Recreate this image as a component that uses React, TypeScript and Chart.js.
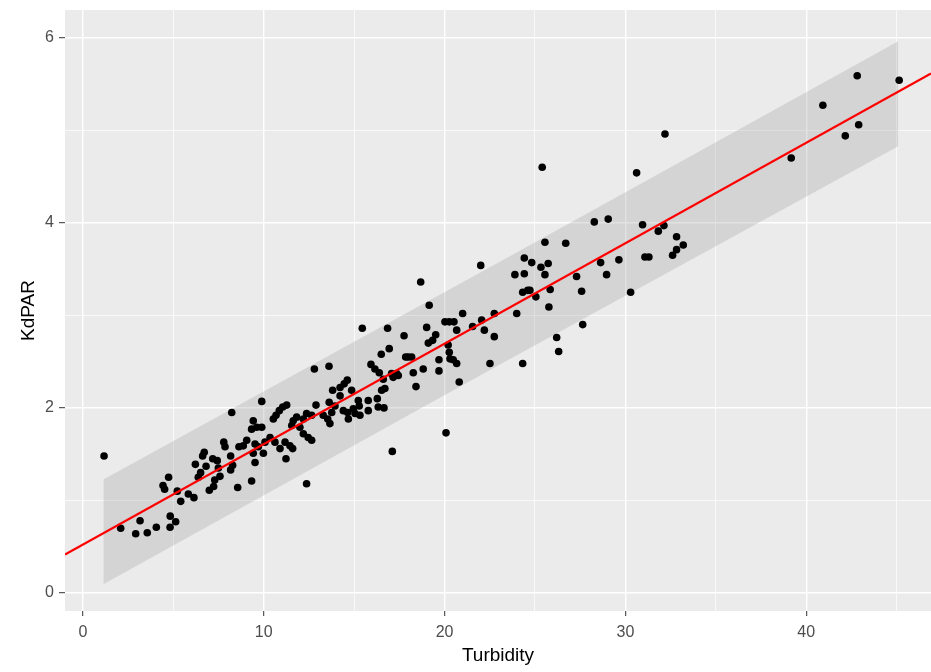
import React, { useEffect, useRef } from "react";
import { Chart, registerables } from "chart.js";

Chart.register(...registerables);

// Observed data (Turbidity vs KdPAR)
const turbidity = [
  1.17, 2.09, 2.92, 3.16, 3.56, 4.06, 4.82, 4.83, 5.13, 4.43, 4.52, 4.74, 5.22, 5.41, 5.83, 6.14, 6.22, 6.38, 6.51, 6.62,
  6.71, 6.81, 6.99, 7.18, 7.23, 7.29, 7.43, 7.49, 7.58, 7.79, 7.86, 8.17, 8.17, 8.23, 8.28, 8.56, 8.63,
  15.45, 16.85, 17.76, 16.94, 16.5, 17.85, 12.8, 13.61, 15.93, 16.15, 16.39, 16.61, 17.07, 17.44, 16.7, 16.52, 14.62, 14.45,
  14.22, 13.81, 14.86, 14.22, 15.23, 15.78, 16.28, 16.33, 16.65, 13.62, 13.94, 13.76, 14.4, 14.64, 14.95, 15.28, 15.05, 15.32,
  15.78, 12.89, 12.65, 12.37, 12.19, 13.54, 13.66, 13.29, 11.82, 11.63, 11.55, 12.0, 12.19, 12.46, 12.65, 11.27, 11.05, 10.86,
  10.68, 10.53, 9.89, 9.42, 9.61, 9.33, 9.89, 10.35, 10.07, 10.62, 10.9, 11.18, 11.45, 11.6, 11.23, 9.06, 8.87, 9.52, 9.7,
  9.42, 9.98, 9.52, 9.33, 12.37, 17.11, 14.68,
  18.68, 22.0, 19.15, 20.02, 20.26, 20.52, 20.67, 21.0, 21.55, 22.05, 22.2, 22.75, 22.75, 23.99, 22.51, 24.32, 19.01, 19.51,
  19.1, 19.34, 17.99, 18.18, 18.82, 18.27, 19.69, 19.69, 18.42, 20.2, 20.26, 20.3, 20.48, 20.67, 20.81, 20.08, 23.89, 24.41,
  24.41, 24.82, 25.33, 25.55, 25.73, 25.55, 24.32, 24.6, 24.72, 25.05, 25.77, 17.16, 17.35,
  30.95, 31.82, 29.05, 28.28, 26.7, 27.3, 28.63, 29.64, 31.08, 31.3, 28.96, 30.29, 27.58, 25.84, 27.64, 26.2, 26.31, 32.19,
  25.4, 30.62, 32.13, 32.83, 33.2, 32.83, 32.61,
  42.82, 45.14, 40.92, 42.16, 42.9, 39.17,
];
const kdpar = [
  1.48, 0.7, 0.64, 0.78, 0.65, 0.71, 0.71, 0.83, 0.77, 1.16, 1.12, 1.25, 1.1, 0.99, 1.07, 1.03, 1.39, 1.25, 1.3, 1.48,
  1.52, 1.37, 1.11, 1.45, 1.15, 1.22, 1.43, 1.35, 1.26, 1.63, 1.58, 1.48, 1.33, 1.95, 1.38, 1.14, 1.58,
  2.86, 2.86, 2.78, 2.64, 2.58, 2.55, 2.42, 2.45, 2.47, 2.42, 2.38, 2.31, 2.37, 2.35, 2.21, 2.19, 2.3, 2.26,
  2.22, 2.19, 2.19, 2.13, 2.08, 2.08, 2.1, 2.01, 2.0, 2.06, 2.02, 1.95, 1.97, 1.95, 1.99, 2.02, 1.94, 1.92,
  1.97, 2.03, 1.92, 1.94, 1.88, 1.88, 1.83, 1.92, 1.9, 1.86, 1.81, 1.79, 1.72, 1.68, 1.65, 2.03, 2.01, 1.97,
  1.92, 1.88, 2.07, 1.86, 1.79, 1.77, 1.79, 1.68, 1.63, 1.63, 1.56, 1.63, 1.59, 1.56, 1.45, 1.65, 1.59, 1.61, 1.58,
  1.51, 1.51, 1.41, 1.21, 1.18, 1.53, 1.88,
  3.36, 3.54, 3.11, 2.93, 2.93, 2.93, 2.84, 3.02, 2.88, 2.95, 2.84, 3.02, 2.77, 3.02, 2.48, 2.48, 2.87, 2.79,
  2.7, 2.73, 2.55, 2.55, 2.42, 2.38, 2.52, 2.4, 2.23, 2.68, 2.6, 2.53, 2.52, 2.48, 2.28, 1.73, 3.44, 3.62,
  3.45, 3.57, 3.52, 3.79, 3.56, 3.44, 3.25, 3.27, 3.27, 3.2, 3.09, 2.33, 2.37,
  3.98, 3.91, 4.04, 4.01, 3.78, 3.42, 3.57, 3.6, 3.63, 3.63, 3.44, 3.25, 3.26, 3.28, 2.9, 2.76, 2.61, 4.96,
  4.6, 4.54, 3.97, 3.85, 3.76, 3.71, 3.65,
  5.59, 5.54, 5.27, 4.94, 5.06, 4.7,
];

// Fitted line (full range) and prediction band
const fitX = [-0.99, 46.9];
const fitY = [0.415, 5.613];
const bandX = [1.13, 23.11, 45.09];
const bandUpper = [1.225, 3.585, 5.962];
const bandLower = [0.094, 2.475, 4.827];

// Axes
const xMajor = [0, 10, 20, 30, 40];
const xMinor = [5, 15, 25, 35, 45];
const yMajor = [0, 2, 4, 6];
const yMinor = [1, 3, 5];
const xLimits = [-0.99, 46.9];
const yLimits = [-0.195, 6.3];

const FONT = "'Liberation Sans', Arial, Helvetica, sans-serif";

const panelBackground = {
  id: "panelBackground",
  beforeDraw(chart: any) {
    const { ctx, chartArea } = chart;
    if (!chartArea) return;
    ctx.save();
    ctx.fillStyle = "#EBEBEB";
    ctx.fillRect(chartArea.left, chartArea.top, chartArea.right - chartArea.left, chartArea.bottom - chartArea.top);
    ctx.restore();
  },
};

export default function App() {
  const canvasRef = useRef<HTMLCanvasElement | null>(null);

  useEffect(() => {
    const canvas = canvasRef.current;
    if (!canvas) return;

    const points = turbidity.map((x, i) => ({ x, y: kdpar[i] }));
    const fit = fitX.map((x, i) => ({ x, y: fitY[i] }));
    const lower = bandX.map((x, i) => ({ x, y: bandLower[i] }));
    const upper = bandX.map((x, i) => ({ x, y: bandUpper[i] }));

    const isXMajor = (v: number) => xMajor.includes(v);
    const isYMajor = (v: number) => yMajor.includes(v);

    const chart = new Chart(canvas, {
      type: "scatter",
      data: {
        datasets: [
          {
            type: "line",
            data: lower,
            showLine: true,
            borderWidth: 0,
            borderColor: "rgba(0,0,0,0)",
            pointRadius: 0,
            fill: false,
            order: 4,
          } as any,
          {
            type: "line",
            data: upper,
            showLine: true,
            borderWidth: 0,
            borderColor: "rgba(0,0,0,0)",
            backgroundColor: "rgba(160,160,160,0.31)",
            pointRadius: 0,
            fill: "-1",
            order: 4,
          } as any,
          {
            data: points,
            backgroundColor: "#000000",
            borderWidth: 0,
            pointRadius: 3.8,
            order: 2,
          } as any,
          {
            type: "line",
            data: fit,
            showLine: true,
            borderColor: "#FF0000",
            borderWidth: 2.2,
            pointRadius: 0,
            fill: false,
            order: 1,
          } as any,
        ],
      },
      options: {
        animation: false,
        responsive: false,
        events: [],
        layout: { autoPadding: false, padding: { top: 10, right: 0, left: 0, bottom: 0 } },
        plugins: {
          legend: { display: false },
          tooltip: { enabled: false },
        },
        scales: {
          x: {
            type: "linear",
            min: xLimits[0],
            max: xLimits[1],
            afterBuildTicks: (scale: any) => {
              scale.ticks = [...xMajor, ...xMinor].sort((a, b) => a - b).map((v) => ({ value: v }));
            },
            afterFit: (scale: any) => {
              scale.height = 61;
              scale.paddingLeft = 0;
              scale.paddingRight = 0;
              scale.paddingTop = 0;
              scale.paddingBottom = 0;
            },
            border: { display: false },
            grid: {
              color: "#FFFFFF",
              lineWidth: (ctx: any) => (isXMajor(ctx.tick?.value) ? 1.4 : 0.7),
              drawTicks: true,
              tickLength: 5,
              tickWidth: 1,
              tickColor: (ctx: any) => (isXMajor(ctx.tick?.value) ? "#333333" : "rgba(0,0,0,0)"),
            },
            ticks: {
              autoSkip: false,
              maxRotation: 0,
              padding: 7,
              color: "#4D4D4D",
              font: { family: FONT, size: 16 },
              callback: (v: any) => (isXMajor(Number(v)) ? String(v) : ""),
            },
            title: {
              display: true,
              text: "Turbidity",
              color: "#000000",
              font: { family: FONT, size: 19 },
              padding: { top: 0, bottom: 5 },
            },
          },
          y: {
            type: "linear",
            min: yLimits[0],
            max: yLimits[1],
            afterBuildTicks: (scale: any) => {
              scale.ticks = [...yMajor, ...yMinor].sort((a, b) => a - b).map((v) => ({ value: v }));
            },
            afterFit: (scale: any) => {
              scale.width = 65;
              scale.paddingLeft = 0;
              scale.paddingRight = 0;
              scale.paddingTop = 0;
              scale.paddingBottom = 0;
            },
            border: { display: false },
            grid: {
              color: "#FFFFFF",
              lineWidth: (ctx: any) => (isYMajor(ctx.tick?.value) ? 1.4 : 0.7),
              drawTicks: true,
              tickLength: 6,
              tickWidth: 1,
              tickColor: (ctx: any) => (isYMajor(ctx.tick?.value) ? "#333333" : "rgba(0,0,0,0)"),
            },
            ticks: {
              autoSkip: false,
              padding: 5,
              color: "#4D4D4D",
              font: { family: FONT, size: 16 },
              callback: (v: any) => (isYMajor(Number(v)) ? String(v) : ""),
            },
            title: {
              display: true,
              text: "KdPAR",
              color: "#000000",
              font: { family: FONT, size: 19 },
              padding: { top: 17, bottom: 0 },
            },
          },
        },
      },
      plugins: [panelBackground],
    } as any);

    return () => {
      chart.destroy();
    };
  }, []);

  return (
    <div style={{ position: "fixed", left: 0, top: 0, width: 931, height: 672, background: "#FFFFFF" }}>
      <canvas ref={canvasRef} width={931} height={672} style={{ display: "block", width: 931, height: 672 }} />
    </div>
  );
}
